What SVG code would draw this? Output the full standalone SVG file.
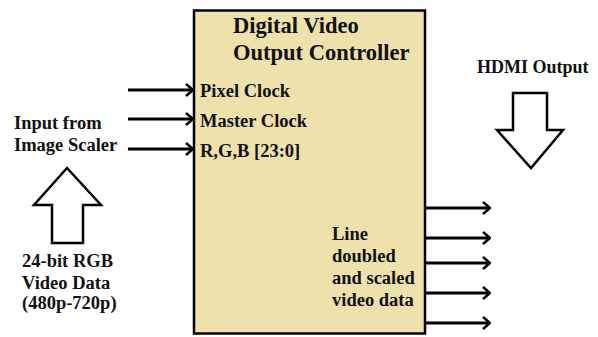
<svg xmlns="http://www.w3.org/2000/svg" width="598" height="337" viewBox="0 0 598 337">
<defs>
<marker id="chev" viewBox="0 0 12 14" refX="11" refY="7" markerWidth="12" markerHeight="14" markerUnits="userSpaceOnUse" orient="auto">
<path d="M4,1 L11,7 L4,13" fill="none" stroke="#000" stroke-width="2.5"/>
</marker>
</defs>
<style>
text{font-family:"Liberation Serif","Times New Roman",serif;font-weight:bold;fill:#111;}
.t{font-size:22.5px;}
.l{font-size:18.5px;}
.h{font-size:18px;}
.c{stroke:#000;stroke-width:3;fill:none;marker-end:url(#chev);}
.big{fill:#fff;stroke:#000;stroke-width:2.5;stroke-linejoin:miter;}
</style>
<rect width="598" height="337" fill="#fff"/>
<g id="controller">
<rect x="194" y="10.5" width="231" height="323" fill="#EEE1AC" stroke="#000" stroke-width="2.5"/>
<text class="t" x="233" y="33">Digital Video</text>
<text class="t" x="233" y="60">Output Controller</text>
<text class="l" x="200" y="97">Pixel Clock</text>
<text class="l" x="200" y="127">Master Clock</text>
<text class="l" x="200" y="157">R,G,B [23:0]</text>
<text class="l" x="332" y="240">Line</text>
<text class="l" x="332" y="262">doubled</text>
<text class="l" x="332" y="284">and scaled</text>
<text class="l" x="332" y="306">video data</text>
</g>
<g id="input">
<text class="l" x="14" y="129">Input from</text>
<text class="l" x="14" y="151">Image Scaler</text>
</g>
<g id="rgb">
<path class="big" d="M67,168 L101,205 L83,205 L83,243 L52,243 L52,205 L34,205 Z"/>
<text class="l" x="22" y="267">24-bit RGB</text>
<text class="l" x="22" y="289">Video Data</text>
<text class="l" x="22" y="309">(480p-720p)</text>
</g>
<g id="hdmi">
<text class="h" x="477" y="73">HDMI Output</text>
<path class="big" d="M513,93 L547,93 L547,130 L563,130 L531,168 L497,130 L513,130 Z"/>
</g>
<g id="connectors">
<line class="c" x1="128" y1="90" x2="193" y2="90"/>
<line class="c" x1="128" y1="119" x2="193" y2="119"/>
<line class="c" x1="128" y1="149" x2="193" y2="149"/>
<line class="c" x1="425" y1="208" x2="490" y2="208"/>
<line class="c" x1="425" y1="238" x2="490" y2="238"/>
<line class="c" x1="425" y1="263" x2="490" y2="263"/>
<line class="c" x1="425" y1="293" x2="490" y2="293"/>
<line class="c" x1="425" y1="323" x2="490" y2="323"/>
</g>
</svg>
